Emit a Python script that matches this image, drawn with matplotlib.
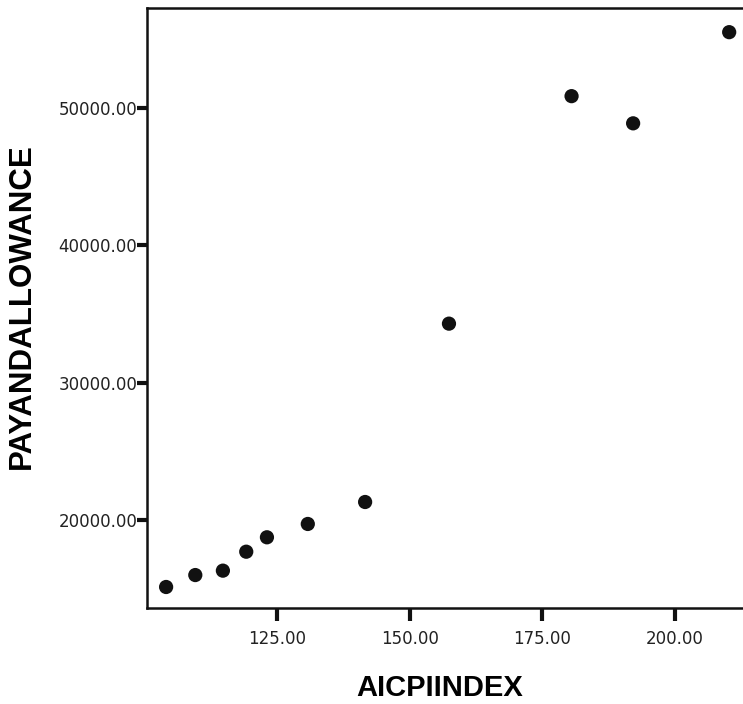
import matplotlib

matplotlib.use("Agg")
import matplotlib.pyplot as plt
from matplotlib.ticker import FormatStrFormatter

plt.rcParams["font.family"] = ["Liberation Sans", "DejaVu Sans"]

# AICPI index vs pay and allowance
aicpi_index = [104.1, 109.6, 114.8, 119.2, 123.1, 130.8, 141.6, 157.4, 180.5, 192.1, 210.2]
pay_allowance = [15120, 15990, 16310, 17690, 18740, 19710, 21310, 34300, 50870, 48890, 55530]

x_ticks = [125, 150, 175, 200]
y_ticks = [20000, 30000, 40000, 50000]

W, H = 743, 704
fig = plt.figure(figsize=(W / 100, H / 100), dpi=100)
ax = fig.add_axes([147 / W, 96 / H, (752 - 147) / W, (608 - 8) / H])

ax.scatter(aicpi_index, pay_allowance, s=105, color="#111111", edgecolors="none", zorder=3)

ax.set_xlim(100.5, 214.5)
ax.set_ylim(13590, 57290)
ax.set_xticks(x_ticks)
ax.set_yticks(y_ticks)
ax.xaxis.set_major_formatter(FormatStrFormatter("%.2f"))
ax.yaxis.set_major_formatter(FormatStrFormatter("%.2f"))

for side in ["left", "bottom", "top", "right"]:
    ax.spines[side].set_linewidth(1.8)
    ax.spines[side].set_color("#111111")

ax.tick_params(direction="out", width=3, color="#111111", labelsize=12,
               labelcolor="#222222")
ax.tick_params(axis="y", length=7, pad=0)
ax.tick_params(axis="x", length=9, pad=7)
for lbl in ax.get_xticklabels() + ax.get_yticklabels():
    lbl.set_family("DejaVu Sans")

ax.set_xlabel("AICPIINDEX", fontsize=21, fontweight="bold")
ax.xaxis.set_label_coords((440 - 147) / (752 - 147), -(688 - 608) / 600, transform=ax.transAxes)
ax.xaxis.label.set_va("center")
ax.set_ylabel("PAYANDALLOWANCE", fontsize=22.5, fontweight="bold")
ax.yaxis.set_label_coords(-(147 - 22) / (752 - 147), (608 - 306) / 600, transform=ax.transAxes)
ax.yaxis.label.set_va("center")

fig.savefig("out.png", dpi=100)
